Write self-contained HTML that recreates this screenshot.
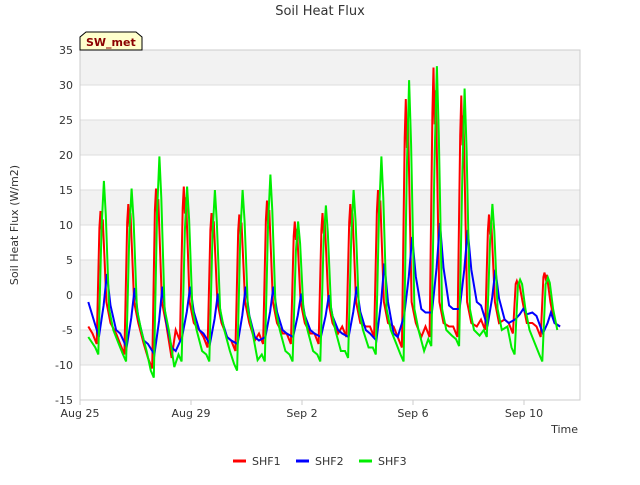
<!DOCTYPE html>
<html><head><meta charset="utf-8"><style>
body{margin:0;background:#fff;font-family:"Liberation Sans","DejaVu Sans",sans-serif;}
svg text{font-family:"DejaVu Sans","Liberation Sans",sans-serif;}
</style></head><body>
<svg id="c" width="640" height="480" xmlns="http://www.w3.org/2000/svg">
<text x="320" y="15" text-anchor="middle" font-size="13" fill="#333">Soil Heat Flux</text>
<g id="bands"></g><g id="grid"></g>
<rect x="80" y="50" width="500" height="350" fill="none" stroke="#ccc"/>
<g id="yt"></g><g id="xt"></g><g id="lines"></g>
<text x="18" y="225" transform="rotate(-90 18 225)" text-anchor="middle" font-size="11" fill="#333">Soil Heat Flux (W/m2)</text>
<text x="578" y="433" text-anchor="end" font-size="11" fill="#333">Time</text>
<g><path d="M80,50 L80,37 L86,32 L136,32 L142,37 L142,50 Z" fill="#ffffcc" stroke="#000"/><text x="86" y="46" font-size="11" font-weight="bold" fill="#8b0000">SW_met</text></g>
<g>
<g><line x1="233" y1="461" x2="246" y2="461" stroke="#f00" stroke-width="3"/><text x="252" y="465" font-size="11" fill="#333">SHF1</text></g>
<g><line x1="296" y1="461" x2="309" y2="461" stroke="#00f" stroke-width="3"/><text x="315" y="465" font-size="11" fill="#333">SHF2</text></g>
<g><line x1="359" y1="461" x2="372" y2="461" stroke="#0e0" stroke-width="3"/><text x="378" y="465" font-size="11" fill="#333">SHF3</text></g>
</g>
</svg>
<script>
const yTicks=[-15,-10,-5,0,5,10,15,20,25,30,35];
const xTickLabels=["Aug 25","Aug 29","Sep 2","Sep 6","Sep 10"];
const xTickDays=[0,4,8,12,16];
const shf1Peaks=[12,13,15.2,15.5,11.7,11.5,13.5,10.5,11.7,13,15,28,32.5,28.5,11.5,2,3.2];
const shf1Troughs=[-7,-8.5,-10.5,-6.5,-7.5,-8,-7,-7,-7,-6,-6,-7.5,-6,-6,-5,-5.5,-6];
const shf2Peaks=[3,1,1.2,1.2,0.2,1.2,1.2,0.2,0,1.2,4.5,8.3,10.3,9.3,3.6,-2,-2.5];
const shf2Troughs=[-6,-7.5,-8.5,-6,-7,-7,-6,-6,-6,-6,-6.5,-3,-2.5,-2,-4.5,-3.5,-5.5];
const shf3Peaks=[16.3,15.2,19.8,15.5,15,15,17.2,10.5,12.8,15,19.8,30.7,32.7,29.5,13,2.2,2.5];
const shf3Troughs=[-8.5,-9.5,-11.8,-9.5,-9.5,-10.8,-9.5,-9.5,-9.5,-9,-8.5,-9.5,-7.3,-7.3,-6,-8.5,-9.5];
const NS="http://www.w3.org/2000/svg";
const X=d=>80+d*27.75, Y=v=>50+(35-v)*7;
const svg=document.getElementById('c');
function mk(t,a,p){const e=document.createElementNS(NS,t);for(const k in a)e.setAttribute(k,a[k]);p.appendChild(e);return e;}
const bands=document.getElementById('bands'),grid=document.getElementById('grid'),yt=document.getElementById('yt'),xt=document.getElementById('xt');
for(let i=0;i<yTicks.length-1;i++){ if((yTicks.length-2-i)%2===0){const b=mk('rect',{x:80,y:Y(yTicks[i+1]),width:500,height:Y(yTicks[i])-Y(yTicks[i+1]),fill:'#f2f2f2'},bands);

}}
yTicks.forEach(v=>{const l=mk('line',{x1:80,x2:580,y1:Y(v),y2:Y(v),stroke:'#ddd'},grid);


const t=mk('text',{x:73,y:Y(v)+4,'text-anchor':'end','font-size':11,fill:'#333'},yt);t.textContent=v;

});
xTickDays.forEach((d,i)=>{mk('line',{x1:X(d),x2:X(d),y1:400,y2:405,stroke:'#ccc'},xt);
const t=mk('text',{x:X(d),y:417,'text-anchor':'middle','font-size':11,fill:'#333'},xt);t.textContent=xTickLabels[i];

});
function build(peaks,troughs,start,shape){const pts=[[0.3,start]];
for(let k=0;k<peaks.length;k++){shape(k,peaks[k],troughs[k]).forEach(p=>pts.push(p));}
return pts.filter(p=>p[0]<=17.3);}
const s1=build(shf1Peaks,shf1Troughs,-4.5,(k,p,t)=>[[k+0.45,t+1.5],[k+0.6,t],[k+0.7,p*0.8],[k+0.74,p],[k+0.78,p*0.75],[k+0.82,p*0.9],[k+0.95,-1],[k+1.1,-4],[k+1.3,t+1.5]]);
const s2=build(shf2Peaks,shf2Troughs,-1,(k,p,t)=>[[k+0.68,t],[k+0.85,(p+t)/2],[k+0.97,p],[k+1.1,(p+t)/2],[k+1.3,t+1],[k+1.45,t+0.5]]);
const s3=build(shf3Peaks,shf3Troughs,-6,(k,p,t)=>[[k+0.55,t+1],[k+0.66,t],[k+0.78,p*0.6],[k+0.86,p],[k+0.93,p*0.7],[k+1.05,-2],[k+1.2,-5],[k+1.4,t+1.5]]);
const lines=document.getElementById('lines');
[[s1,'#f00','shf1-line'],[s2,'#00f','shf2-line'],[s3,'#0e0','shf3-line']].forEach(([s,c,n])=>{
const p=mk('path',{d:s.map((q,i)=>(i?'L':'M')+X(q[0]).toFixed(1)+','+Y(q[1]).toFixed(1)).join(''),fill:'none',stroke:c,'stroke-width':2},lines);

});
</script>
</body></html>
